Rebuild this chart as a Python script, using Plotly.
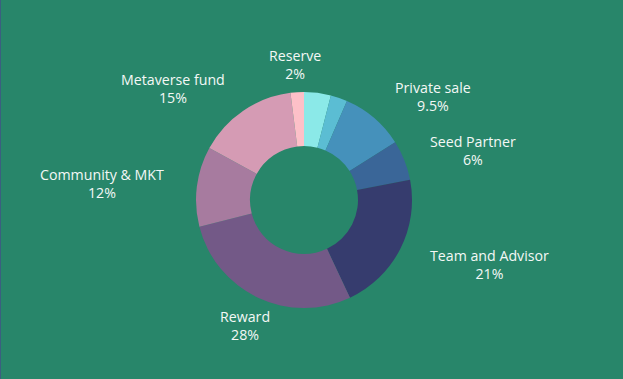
import plotly.graph_objects as go

W, H = 623, 379

# Data (clockwise from 12 o'clock)
labels = ["Segment A", "Segment B", "Private sale", "Seed Partner", "Team and Advisor",
          "Reward", "Community & MKT", "Metaverse fund", "Reserve"]
values = [4, 2.5, 9.5, 6, 21, 28, 12, 15, 2]
value_text = ["", "", "9.5%", "6%", "21%", "28%", "12%", "15%", "2%"]
show_label = [False, False, True, True, True, True, True, True, True]
colors = ["#8be9e8", "#5bbdd3", "#4591bb", "#3a6698", "#363c6e",
          "#735987", "#a77b9f", "#d59bb4", "#fdc0c8"]

# label block centers in pixels (layout)
label_pos = [None, None, (432.5, 97), (473, 150.5), (489, 264),
             (245, 325), (101.5, 184), (173, 88.5), (295, 64.5)]

cx, cy, r = 304, 200, 108

fig = go.Figure(go.Pie(
    labels=labels, values=values, sort=False, direction="clockwise", rotation=0,
    hole=0.5, textinfo="none", hoverinfo="label+percent",
    marker=dict(colors=colors, line=dict(width=0)),
    domain=dict(x=[(cx - r) / W, (cx + r) / W], y=[1 - (cy + r) / H, 1 - (cy - r) / H]),
    showlegend=False,
))

for lab, vt, show, pos in zip(labels, value_text, show_label, label_pos):
    if not show:
        continue
    fig.add_annotation(
        x=pos[0] / W, y=1 - pos[1] / H, xref="paper", yref="paper",
        xanchor="center", yanchor="middle", showarrow=False,
        text=f"{lab}<br>{vt}", align="center",
        font=dict(family="Open Sans", size=14.2, color="#f4f8f6", weight=500),
    )

fig.add_shape(type="line", xref="paper", yref="paper", x0=0, x1=0, y0=0, y1=1,
              line=dict(color="#3b5f80", width=2))

fig.update_layout(
    width=W, height=H, margin=dict(l=0, r=0, t=0, b=0),
    paper_bgcolor="#28866a", plot_bgcolor="#28866a",
)

fig.write_html("out.html", config={"displayModeBar": False},
               post_script="document.body.style.margin='0';document.body.style.background='#28866a';")
